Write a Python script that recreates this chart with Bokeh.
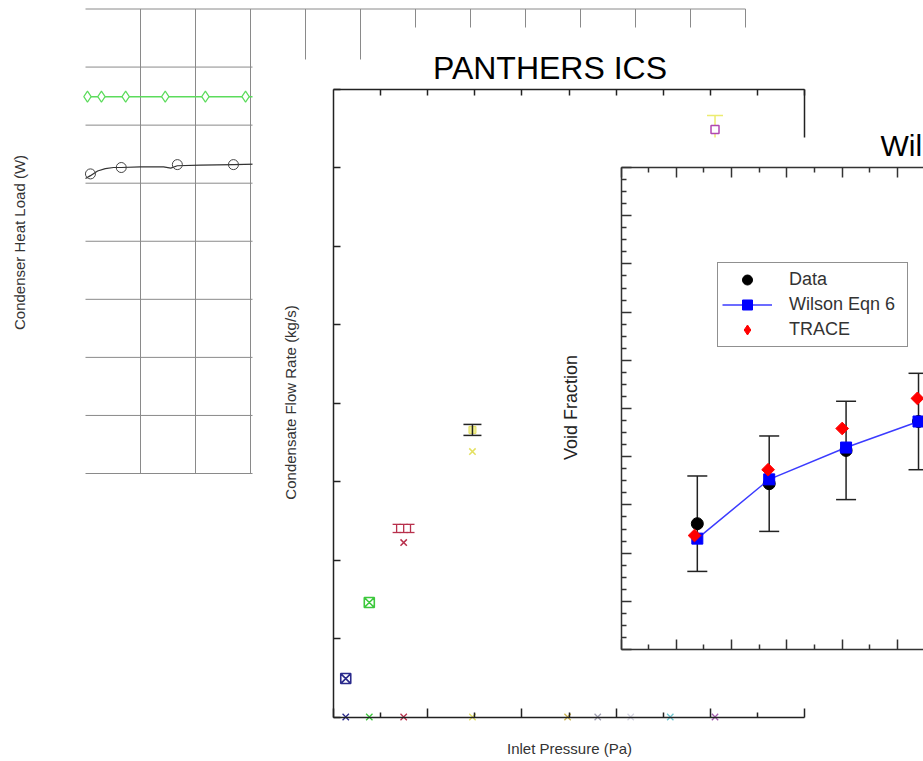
import math
from bokeh.plotting import figure
from bokeh.models import (Range1d, LinearAxis, FixedTicker, CustomJSTickFormatter,
                          Label, Legend, LegendItem)
from bokeh.embed import file_html
from bokeh.resources import INLINE

# ---------------- data ----------------
# Panel 1: Condenser heat load (W) vs time
p1_grid_x = [100, 200, 300, 400, 500, 600, 700, 800, 900, 1000, 1100, 1200]
p1_grid_y = [0, 100, 200, 300, 400, 500, 600, 700, 800]
green_x = [3.6, 29, 73, 145, 218, 291]
green_y = [649, 649, 649, 649, 649, 649]
green_line_x = [0, 3.6, 29, 73, 145, 218, 291, 330]
green_line_y = [649, 649, 649, 649, 649, 649, 649, 649]
black_line_x = [0, 9, 22, 36, 51, 65, 100, 142, 155, 167, 209, 269, 330]
black_line_y = [508, 513, 521, 525, 527, 527, 528, 528, 526, 530, 531, 532, 533]
black_x = [9, 65, 167, 269]
black_y = [516, 527, 532, 532]

# Panel 2: PANTHERS ICS, condensate flow rate (kg/s) vs inlet pressure (Pa)
pressure = [26000, 76000, 149000, 295000, 497000, 561000, 631000, 715000, 810000]
series_colors = ["#2a2a8c", "#3cc83c", "#b8304c", "#e4e060", "#ccb450",
                 "#a2a2b4", "#d6d6e2", "#70c8d2", "#a45cae"]
zero_flow = [0, 0, 0, 0, 0, 0, 0, 0, 0]
sq_pressure = [26000, 76000]
sq_flow = [0.0245, 0.0730]
sq_colors = ["#2a2a8c", "#3cc83c"]
x_pressure = [149000, 295000]
x_flow = [0.1112, 0.1692]
x_colors = ["#b8304c", "#e4e060"]
crim_err_p = [134000, 149000, 163500]
crim_err_c = [0.1202, 0.1202, 0.1202]
crim_err_h = [0.0026, 0.0026, 0.0026]
yel_err_p = [295000]
yel_err_c = [0.1830]
yel_err_h = [0.0035]
mag_p = [810000]
mag_flow = [0.3745]
mag_err_h = [0.0089]

# Panel 3: Wilson comparison, void fraction
x3 = [1.38, 2.68, 4.07, 5.38]
void_data = [0.261, 0.344, 0.413, 0.473]
void_err = [0.099, 0.099, 0.102, 0.100]
wilson = [0.230, 0.353, 0.419, 0.473]
trace_x = [1.33, 2.66, 4.00, 5.36]
trace = [0.2365, 0.373, 0.4585, 0.521]

p2_xticks = [0, 200000, 400000, 600000, 800000, 1000000]
p2_xminor = [100000, 300000, 500000, 700000, 900000]
p2_topticks = [100000, 200000, 300000, 400000, 500000, 600000, 700000, 800000, 900000, 1000000]
p2_yticks = [0, 0.05, 0.1, 0.15, 0.2, 0.25, 0.3, 0.35, 0.4]
p3_xticks = [0, 1, 2, 3, 4, 5]
p3_xminor = [0.5, 1.5, 2.5, 3.5, 4.5, 5.5]
p3_yticks = [0, 0.1, 0.2, 0.3, 0.4, 0.5, 0.6, 0.7, 0.8, 0.9, 1.0]
p3_yminor = [0.025, 0.05, 0.075, 0.125, 0.15, 0.175, 0.225, 0.25, 0.275, 0.325, 0.35, 0.375,
             0.425, 0.45, 0.475, 0.525, 0.55, 0.575, 0.625, 0.65, 0.675, 0.725, 0.75, 0.775,
             0.825, 0.85, 0.875, 0.925, 0.95, 0.975]

# ---------------- layout of the collage ----------------
W, H, M = 923, 761, 0
FONT = "Liberation Sans"


def mapper(d0, d1, q0, q1):
    k = (d1 - d0) / (q1 - q0)
    return lambda q: d0 + (q - q0) * k


maps = {
    "p1": (mapper(0, 1200, 85, 745), mapper(0, 800, 473, 8.5)),
    "p2": (mapper(0, 1.0e6, 333, 804), mapper(0, 0.4, 716.5, 89)),
    "p3": (mapper(0, 5, 620.5, 897), mapper(0, 1, 649, 167)),
}


def xr(name):
    f = maps[name][0]
    return Range1d(f(M), f(M + W))


def yr(name):
    f = maps[name][1]
    return Range1d(f(M + H), f(M))


p = figure(width=W, height=H, output_backend="svg", toolbar_location=None,
           x_axis_location=None, y_axis_location=None, min_border=0, title=None,
           x_range=xr("p2"), y_range=yr("p2"))
p.extra_x_ranges = {n: xr(n) for n in maps}
p.extra_y_ranges = {n: yr(n) for n in maps}
p.outline_line_color = None
p.xgrid.visible = False
p.ygrid.visible = False
p.background_fill_color = "white"
p.border_fill_color = "white"

R1 = dict(x_range_name="p1", y_range_name="p1")
R2 = dict(x_range_name="p2", y_range_name="p2")
R3 = dict(x_range_name="p3", y_range_name="p3")

# ---------- panel 1 ----------
p.segment(x0=p1_grid_x, y0=[0] * len(p1_grid_x), x1=p1_grid_x, y1=[800] * len(p1_grid_x),
          line_color="#8a8a8a", line_width=1, **R1)
p.segment(x0=[0] * len(p1_grid_y), y0=p1_grid_y, x1=[1200] * len(p1_grid_y), y1=p1_grid_y,
          line_color="#8a8a8a", line_width=1, **R1)
p.line(green_line_x, green_line_y, line_color="#5cdc5c", line_width=1.5, **R1)
p.scatter(green_x, green_y, marker="diamond", size=11, fill_color="white",
          line_color="#5cdc5c", line_width=1.2, **R1)
p.line(black_line_x, black_line_y, line_color="#333333", line_width=1.2, **R1)
p.scatter(black_x, black_y, marker="circle", size=10, fill_color=None,
          line_color="#444444", line_width=1, **R1)

# ---------- panel 2 backdrop ----------
f2x, f2y = maps["p2"]
p.quad(left=[f2x(252), f2x(400)], right=[f2x(923), f2x(923)],
       top=[f2y(59), f2y(27)], bottom=[f2y(761), f2y(761)],
       fill_color="white", line_color=None, **R2)


# ---------- panel 2 glyphs ----------
def errbar(xs, cs, hs, color, cap, width=1.5, rng=R2):
    lo = [c - h for c, h in zip(cs, hs)]
    hi = [c + h for c, h in zip(cs, hs)]
    p.segment(x0=xs, y0=lo, x1=xs, y1=hi, line_color=color, line_width=width, **rng)
    p.scatter(xs, lo, marker="dash", size=cap, line_color=color, line_width=width, **rng)
    p.scatter(xs, hi, marker="dash", size=cap, line_color=color, line_width=width, **rng)


errbar(crim_err_p, crim_err_c, crim_err_h, "#b8304c", 8, 1.3)
p.scatter(yel_err_p, yel_err_c, marker="square", size=7, fill_color="#f0ee90",
          line_color="#e4e060", **R2)
errbar(yel_err_p, yel_err_c, yel_err_h, "#222222", 18, 1.5)
errbar(mag_p, mag_flow, mag_err_h, "#ecec70", 16, 1.5)
p.scatter(mag_p, mag_flow, marker="square", size=8, fill_color="white",
          line_color="#b048b0", line_width=1.5, **R2)
p.scatter(sq_pressure, sq_flow, marker="square_x", size=10, fill_color=None,
          line_color=sq_colors, line_width=1.6, **R2)
p.scatter(x_pressure, x_flow, marker="x", size=9, line_color=x_colors, line_width=1.5, **R2)
p.scatter(pressure, zero_flow, marker="x", size=9, line_color=series_colors, line_width=1.3, **R2)

# ---------- panel 3 backdrop ----------
f3x, f3y = maps["p3"]
p.quad(left=[f3x(553)], right=[f3x(930)], top=[f3y(137)], bottom=[f3y(706)],
       fill_color="white", line_color=None, **R3)

# ---------- panel 3 glyphs ----------
errbar(x3, void_data, void_err, "#222222", 20, 1.5, R3)
r_data = p.scatter(x3, void_data, marker="circle", size=12, fill_color="black",
                   line_color="black", **R3)
r_wline = p.line(x3, wilson, line_color="#3b3bff", line_width=1.5, **R3)
r_wsq = p.scatter(x3, wilson, marker="square", size=11, fill_color="#0000ff",
                  line_color="#0000ff", **R3)
r_trace = p.scatter(trace_x, trace, marker="diamond", size=9, fill_color="#ff0000",
                    line_color="#ff0000", **R3)
p.scatter(trace_x, trace, marker="square", angle=math.pi / 4, size=9,
          fill_color="#ff0000", line_color="#ff0000", **R3)


# ---------- axes ----------
def add_axis(side, rng, loc, bounds, ticks, minor, tin, min_in, color, width):
    ax = LinearAxis(x_range_name=rng, y_range_name=rng, fixed_location=loc, bounds=bounds,
                    ticker=FixedTicker(ticks=ticks, minor_ticks=minor),
                    formatter=CustomJSTickFormatter(code="return ''"),
                    axis_line_color=color, axis_line_width=width,
                    major_tick_in=tin, major_tick_out=0,
                    minor_tick_in=min_in, minor_tick_out=0,
                    major_tick_line_color=color, minor_tick_line_color=color,
                    major_tick_line_width=width, minor_tick_line_width=width)
    p.add_layout(ax, side)


add_axis("below", "p2", 0, (0, 1.0e6), p2_xticks, p2_xminor, 9, 5, "#222222", 1.5)
add_axis("above", "p2", 0.4, (0, 1.0e6), p2_topticks, [], 6, 0, "#222222", 1.5)
add_axis("left", "p2", 0, (0, 0.4), p2_yticks, [], 7, 0, "#222222", 1.5)
add_axis("right", "p2", 1.0e6, (f2y(137), 0.4), [], [], 0, 0, "#222222", 1.5)

add_axis("below", "p3", 0, (0, 6), p3_xticks, p3_xminor, 10, 5, "#333333", 1.5)
add_axis("above", "p3", 1, (0, 6), p3_xticks, p3_xminor, 10, 5, "#333333", 1.5)
add_axis("left", "p3", 0, (0, 1), p3_yticks, p3_yminor, 10, 5, "#333333", 1.5)


# ---------- texts ----------
def label(text, rng, px, py, size, color="#333333", angle=0, align="center",
          baseline="middle"):
    fx, fy = maps[rng]
    p.add_layout(Label(x=fx(px), y=fy(py), x_range_name=rng, y_range_name=rng, text=text,
                       text_font=FONT, text_font_size=f"{size}px", text_color=color,
                       angle=angle, text_align=align, text_baseline=baseline))


label("Condenser Heat Load (W)", "p1", 19, 242, 15, angle=math.pi / 2)
label("PANTHERS ICS", "p2", 549.5, 67, 32, color="#000000", baseline="alphabetic")
label("Condensate Flow Rate (kg/s)", "p2", 290, 402, 15, angle=math.pi / 2)
label("Inlet Pressure (Pa)", "p2", 569, 748, 15)
label("Void Fraction", "p3", 570, 407, 18, color="#222222", angle=math.pi / 2)
label("Wil", "p3", 880, 145, 30, color="#000000", align="left", baseline="alphabetic")

legend = Legend(items=[LegendItem(label="Data", renderers=[r_data]),
                       LegendItem(label="Wilson Eqn 6", renderers=[r_wline, r_wsq]),
                       LegendItem(label="TRACE", renderers=[r_trace])],
                location=(717 - M, M + H - 347), orientation="vertical", margin=0,
                padding=4, spacing=0, glyph_width=50, glyph_height=25, label_height=25,
                label_width=114, label_standoff=17, label_text_font=FONT,
                label_text_font_size="18px", label_text_color="#333333",
                border_line_color="#222222", border_line_width=1,
                background_fill_color="white", background_fill_alpha=1.0)
p.add_layout(legend, "center")

open("out.html", "w").write(file_html(p, INLINE))
